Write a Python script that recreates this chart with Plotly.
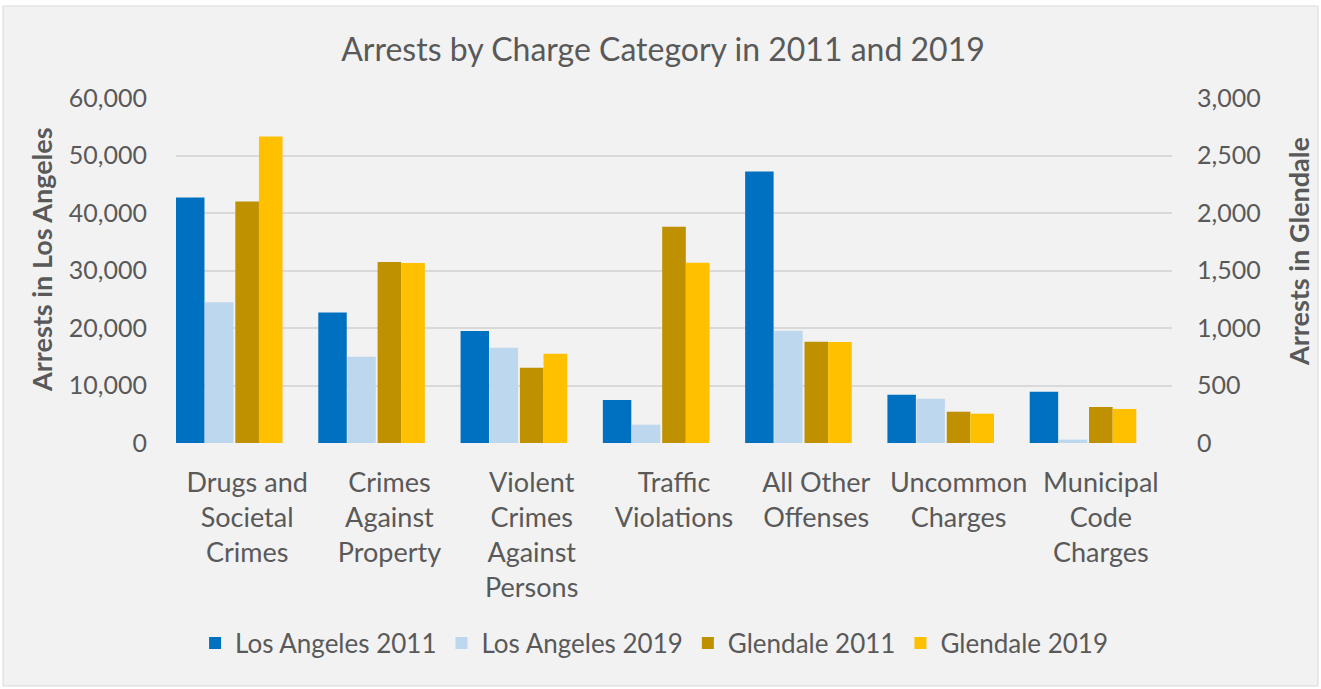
import plotly.graph_objects as go

categories = ["Drugs and Societal Crimes", "Crimes Against Property", "Violent Crimes Against Persons",
              "Traffic Violations", "All Other Offenses", "Uncommon Charges", "Municipal Code Charges"]
tick_labels = ["Drugs and<br>Societal<br>Crimes", "Crimes<br>Against<br>Property",
               "Violent<br>Crimes<br>Against<br>Persons", "Traffic<br>Violations",
               "All Other<br>Offenses", "Uncommon<br>Charges", "Municipal<br>Code<br>Charges"]

la_2011 = [42700, 22700, 19500, 7480, 47200, 8400, 8920]
la_2019 = [24500, 15000, 16570, 3180, 19530, 7700, 580]
gl_2011 = [2100, 1574, 655, 1881, 881, 272, 313]
gl_2019 = [2665, 1565, 777, 1568, 878, 255, 296]

series = [
    ("Los Angeles 2011", la_2011, "y", "#0070C0", -0.5, 0.2),
    ("Los Angeles 2019", la_2019, "y", "#BDD7EE", -0.296, 0.2),
    ("Glendale 2011", gl_2011, "y2", "#BF9000", -0.083, 0.166),
    ("Glendale 2019", gl_2019, "y2", "#FFC000", 0.083, 0.166),
]

font_fam = "Lato, 'Open Sans', sans-serif"
grey = "#595959"

fig = go.Figure()
for name, vals, ax, color, off, w in series:
    fig.add_trace(go.Bar(
        x=categories, y=vals, name=name, yaxis=ax,
        marker=dict(color=color, line=dict(width=0)),
        offset=off, width=w,
    ))

L, R, T, B = 176, 149, 98, 246
W, H = 1321, 689
pw, ph = W - L - R, H - T - B


def px_x(p):
    return (p - L) / pw


def px_y(p):
    return (T + ph - p) / ph


fig.update_layout(
    width=W, height=H,
    margin=dict(l=L, r=R, t=T, b=B, autoexpand=False),
    paper_bgcolor="white",
    plot_bgcolor="rgba(0,0,0,0)",
    barmode="overlay",
    font=dict(family=font_fam, color=grey, size=22),
    title=dict(text="Arrests by Charge Category in 2011 and 2019",
               x=663 / W, xanchor="center", y=1 - 50 / H, yanchor="middle",
               xref="container", yref="container",
               font=dict(size=32, color=grey, family=font_fam)),
    xaxis=dict(
        tickmode="array", tickvals=categories, ticktext=tick_labels,
        showgrid=False, showline=False, ticks="", zeroline=False,
        tickfont=dict(size=27, color=grey), range=[-0.5, 6.5],
        ticklabelstandoff=21,
    ),
    yaxis=dict(
        range=[0, 60000], tickvals=[0, 10000, 20000, 30000, 40000, 50000, 60000],
        tickformat=",", showgrid=True, gridcolor="#d9d9d9", gridwidth=1.5,
        zeroline=False, showline=False, ticks="",
        tickfont=dict(size=25, color=grey), ticklabelstandoff=28,
    ),
    yaxis2=dict(
        range=[0, 3000], tickvals=[0, 500, 1000, 1500, 2000, 2500, 3000],
        tickformat=",", overlaying="y", side="right", showgrid=False,
        zeroline=False, showline=False, ticks="",
        tickfont=dict(size=25, color=grey), ticklabelstandoff=24,
    ),
    legend=dict(orientation="h", x=0.48, xanchor="center", y=px_y(643), yanchor="middle",
                font=dict(size=26, color=grey), bgcolor="rgba(0,0,0,0)",
                itemwidth=30, tracegroupgap=0),
    annotations=[
        dict(text="<b>Arrests in Los Angeles</b>", xref="paper", yref="paper",
             x=px_x(41), y=px_y(260), xanchor="center", yanchor="middle",
             textangle=-90, showarrow=False, font=dict(size=27, color=grey)),
        dict(text="<b>Arrests in Glendale</b>", xref="paper", yref="paper",
             x=px_x(1298), y=px_y(252), xanchor="center", yanchor="middle",
             textangle=-90, showarrow=False, font=dict(size=27, color=grey)),
    ],
    shapes=[dict(type="rect", xref="paper", yref="paper", layer="below",
                 x0=px_x(3), x1=px_x(1318), y0=px_y(686), y1=px_y(6),
                 fillcolor="#f2f2f2", line=dict(color="#d9d9d9", width=1))],
    showlegend=True,
)

fig.write_html("out.html", config={"displayModeBar": False},
               post_script="document.body.style.margin='0';")
